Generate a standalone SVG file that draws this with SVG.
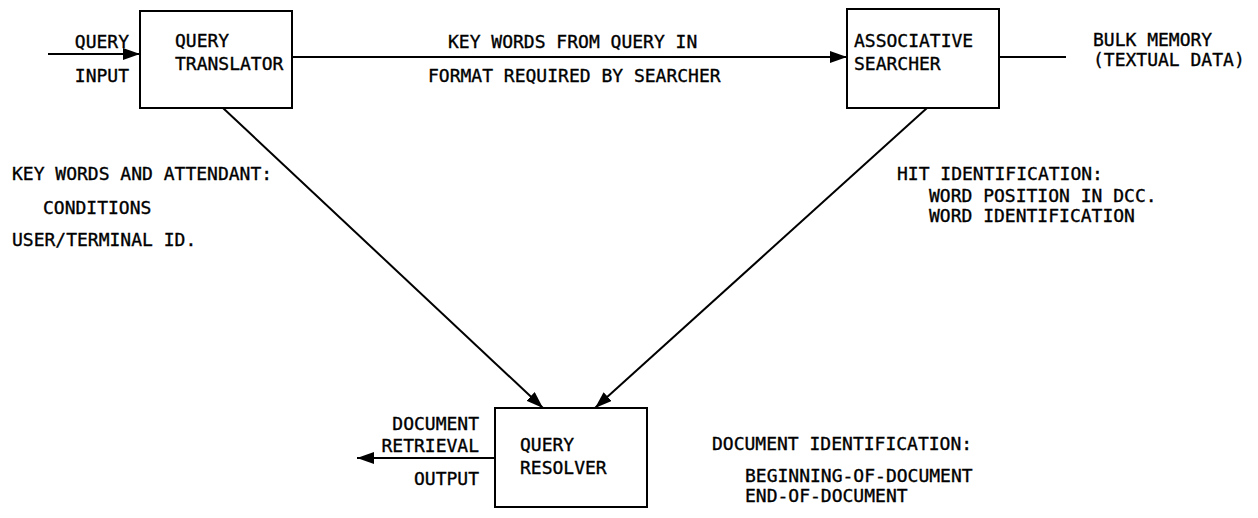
<svg xmlns="http://www.w3.org/2000/svg" width="1258" height="518" viewBox="0 0 1258 518">
  <style>
    .box { fill: #fff; stroke: #000; stroke-width: 2; }
    .ln { fill: none; stroke: #000; stroke-width: 2; }
    text { font-family: "DejaVu Sans Mono", "Liberation Mono", monospace; font-size: 18px; fill: #000; stroke: #000; stroke-width: 0.35; }
    .e { text-anchor: end; }
  </style>
  <defs>
    <marker id="arr" viewBox="0 0 17 12" refX="17" refY="6" markerWidth="17" markerHeight="12" markerUnits="userSpaceOnUse" orient="auto">
      <path d="M0,0 L17,6 L0,12 Z" fill="#000"/>
    </marker>
  </defs>

  <g id="connectors">
    <line class="ln" x1="48" y1="54" x2="140" y2="54" marker-end="url(#arr)"/>
    <line class="ln" x1="292" y1="57" x2="847" y2="57" marker-end="url(#arr)"/>
    <line class="ln" x1="999" y1="57" x2="1066" y2="57"/>
    <line class="ln" x1="223" y1="108" x2="543" y2="408" marker-end="url(#arr)"/>
    <line class="ln" x1="927" y1="108" x2="595" y2="408" marker-end="url(#arr)"/>
    <line class="ln" x1="495" y1="458" x2="357" y2="458" marker-end="url(#arr)"/>
  </g>

  <g id="query-input-label">
    <text class="e" x="129" y="48">QUERY</text>
    <text class="e" x="129" y="82">INPUT</text>
  </g>

  <g id="query-translator">
    <rect class="box" x="140" y="11" width="152" height="97"/>
    <text x="175" y="47">QUERY</text>
    <text x="175" y="70">TRANSLATOR</text>
  </g>

  <g id="keywords-label">
    <text x="448" y="48">KEY WORDS FROM QUERY IN</text>
    <text x="428" y="82">FORMAT REQUIRED BY SEARCHER</text>
  </g>

  <g id="associative-searcher">
    <rect class="box" x="847" y="9" width="152" height="99"/>
    <text x="854" y="47">ASSOCIATIVE</text>
    <text x="854" y="70">SEARCHER</text>
  </g>

  <g id="bulk-memory">
    <text x="1093" y="46">BULK MEMORY</text>
    <text x="1093" y="66">(TEXTUAL DATA)</text>
  </g>

  <g id="attendant-label">
    <text x="12" y="180">KEY WORDS AND ATTENDANT:</text>
    <text x="43" y="214">CONDITIONS</text>
    <text x="12" y="246">USER/TERMINAL ID.</text>
  </g>

  <g id="hit-label">
    <text x="897" y="180">HIT IDENTIFICATION:</text>
    <text x="929" y="202">WORD POSITION IN DCC.</text>
    <text x="929" y="222">WORD IDENTIFICATION</text>
  </g>

  <g id="query-resolver">
    <rect class="box" x="495" y="408" width="152" height="99"/>
    <text x="520" y="451">QUERY</text>
    <text x="520" y="474">RESOLVER</text>
  </g>

  <g id="output-label">
    <text class="e" x="479" y="430">DOCUMENT</text>
    <text class="e" x="479" y="452">RETRIEVAL</text>
    <text class="e" x="479" y="485">OUTPUT</text>
  </g>

  <g id="document-id-label">
    <text x="712" y="450">DOCUMENT IDENTIFICATION:</text>
    <text x="745" y="482">BEGINNING-OF-DOCUMENT</text>
    <text x="745" y="502">END-OF-DOCUMENT</text>
  </g>
</svg>
